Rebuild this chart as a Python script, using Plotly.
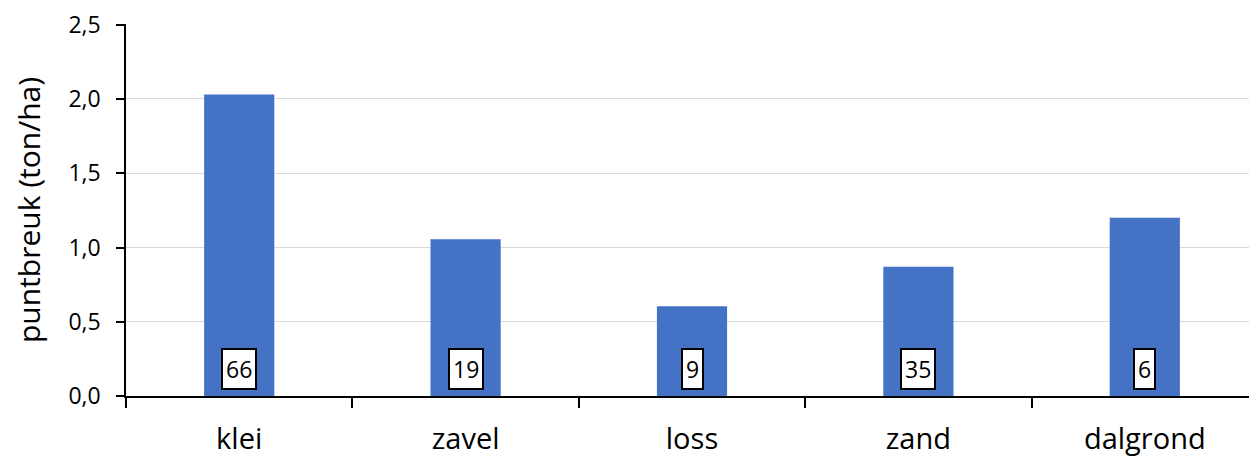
import plotly.graph_objects as go

categories = ["klei", "zavel", "loss", "zand", "dalgrond"]
values = [2.03, 1.055, 0.605, 0.87, 1.20]
counts = ["66", "19", "9", "35", "6"]
y_ticks = [0, 0.5, 1.0, 1.5, 2.0, 2.5]

FONT = "Open Sans"

fig = go.Figure()
fig.add_trace(go.Bar(
    x=categories, y=values,
    marker=dict(color="#4472C4", line=dict(width=0)),
    hoverinfo="skip",
))

for c, n in zip(categories, counts):
    fig.add_annotation(
        x=c, y=0, xref="x", yref="y", text=n, showarrow=False,
        yanchor="bottom", yshift=6,
        font=dict(family=FONT, size=23, color="black"),
        bgcolor="white", bordercolor="black", borderwidth=2, borderpad=3,
    )

fig.update_layout(
    width=1250, height=448,
    margin=dict(l=118, r=0, t=16, b=60),
    paper_bgcolor="white", plot_bgcolor="white",
    bargap=0.69,
    separators=",.",
    showlegend=False,
    font=dict(family=FONT, color="black"),
)
fig.update_xaxes(
    showline=True, linecolor="black", linewidth=1.5,
    ticks="outside", tickson="boundaries", ticklen=10, tickcolor="black", tickwidth=1.5,
    tickfont=dict(family=FONT, size=29, color="black"),
    ticklabelstandoff=16,
    showgrid=False,
)
fig.update_yaxes(
    range=[0, 2.505], tickvals=y_ticks, tickformat=".1f",
    showline=True, linecolor="black", linewidth=1.5,
    ticks="outside", ticklen=8, tickcolor="black", tickwidth=1.5,
    tickfont=dict(family=FONT, size=23, color="black"),
    ticklabelstandoff=11, ticklabeloverflow="allow",
    showgrid=True, gridcolor="#d9d9d9", gridwidth=1.2,
    zeroline=False, automargin=False,
    title=dict(text="puntbreuk (ton/ha)", font=dict(family=FONT, size=30, color="black"), standoff=26),
)

fig.write_html("out.html")
